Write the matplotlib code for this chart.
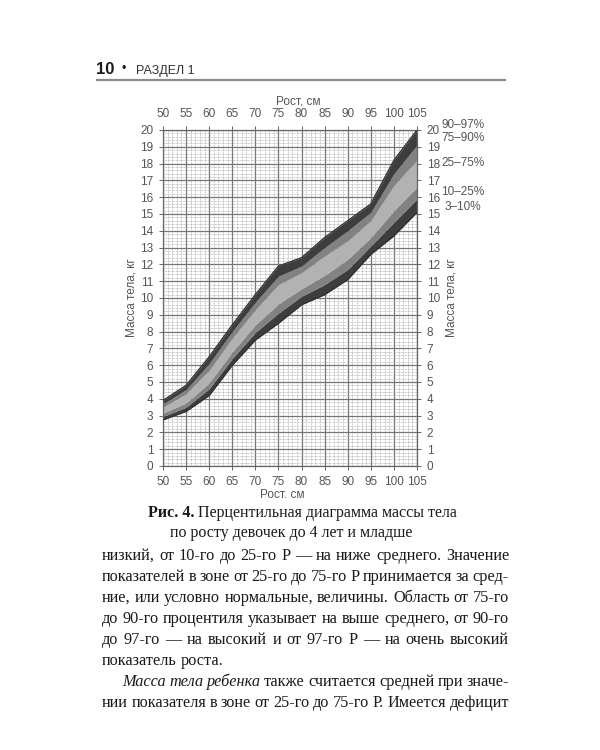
import matplotlib
matplotlib.use("Agg")
import matplotlib.pyplot as plt
from matplotlib.ticker import MultipleLocator
from matplotlib.lines import Line2D

# ---------------- data ----------------
height_cm = [50, 55, 60, 65, 70, 75, 80, 85, 90, 95, 100, 105]
p3  = [2.75, 3.25, 4.2, 6.0, 7.5, 8.5, 9.6, 10.2, 11.1, 12.6, 13.7, 15.1]
p10 = [2.95, 3.5, 4.6, 6.4, 7.95, 9.1, 10.1, 10.8, 11.7, 13.1, 14.5, 15.9]
p25 = [3.15, 3.75, 4.95, 6.8, 8.4, 9.65, 10.55, 11.35, 12.3, 13.6, 15.2, 16.6]
p75 = [3.5, 4.3, 5.7, 7.6, 9.3, 10.8, 11.5, 12.5, 13.4, 14.6, 16.7, 18.2]
p90 = [3.7, 4.55, 6.1, 8.0, 9.75, 11.3, 11.9, 13.0, 14.0, 15.1, 17.4, 19.1]
p97 = [3.9, 4.8, 6.5, 8.4, 10.2, 11.9, 12.4, 13.6, 14.6, 15.6, 18.2, 20.0]

x_ticks = [50, 55, 60, 65, 70, 75, 80, 85, 90, 95, 100, 105]
y_ticks = list(range(0, 21))
band_labels = ["90–97%", "75–90%", "25–75%", "10–25%", "3–10%"]
band_label_y = [125, 138, 163, 192, 207]  # pixel rows on page

header_num = "10"
header_sec = "РАЗДЕЛ 1"
xlabel_top = "Рост, см"
xlabel_bottom = "Рост. см"
ylabel = "Масса тела, кг"
caption_bold = "Рис. 4."
caption_1 = " Перцентильная диаграмма массы тела"
caption_2 = "по росту девочек до 4 лет и младше"

body_lines = [
    "низкий, от 10-го до 25-го Р — на ниже среднего. Значение",
    "показателей в зоне от 25-го до 75-го Р принимается за сред-",
    "ние, или условно нормальные, величины. Область от 75-го",
    "до 90-го процентиля указывает на выше среднего, от 90-го",
    "до 97-го — на высокий и от 97-го Р — на очень высокий",
    "показатель роста.",
    "Масса тела ребенка также считается средней при значе-",
    "нии показателя в зоне от 25-го до 75-го Р. Имеется дефицит",
]

# ---------------- figure ----------------
W, H = 600, 750
fig = plt.figure(figsize=(6, 7.5), dpi=100)
fig.patch.set_facecolor("white")

def fx(px):
    return px / W

def fy(py):
    return 1 - py / H

sans = ["Liberation Sans", "DejaVu Sans"]
serif = ["Liberation Serif", "DejaVu Serif"]
txt_gray = "#555555"
tick_fs = 8.5

ax = fig.add_axes([fx(163), fy(466), fx(417) - fx(163), (466 - 130) / H])
ax.set_xlim(50, 105)
ax.set_ylim(0, 20)
ax.set_xticks(x_ticks)
ax.set_yticks(y_ticks)
ax.xaxis.set_minor_locator(MultipleLocator(1))
ax.yaxis.set_minor_locator(MultipleLocator(0.2))
ax.grid(which="minor", color="#a0a0a0", linestyle=(0, (1, 1)), linewidth=0.5, zorder=0)
ax.grid(which="major", color="#777777", linestyle="-", linewidth=0.9, zorder=0)
ax.set_axisbelow(True)
for s in ax.spines.values():
    s.set_color("#666666")
    s.set_linewidth(0.9)

ax.tick_params(which="major", top=True, right=True, labeltop=True, labelright=True,
               direction="out", length=3, width=0.7, color="#666666",
               labelsize=tick_fs, labelcolor=txt_gray)
ax.tick_params(axis="x", which="major", pad=4)
ax.tick_params(axis="y", which="major", pad=3)
ax.tick_params(axis="y", which="major", right=True, pad=4)
ax.tick_params(which="minor", length=0)
for lab in ax.get_xticklabels() + ax.get_yticklabels():
    lab.set_family(sans)

dark = "#3d3d3d"
mid = "#828282"
light = "#b2b2b2"
ax.fill_between(height_cm, p3, p10, color=dark, lw=0, zorder=2)
ax.fill_between(height_cm, p10, p25, color=mid, lw=0, zorder=2)
ax.fill_between(height_cm, p25, p75, color=light, lw=0, zorder=2)
ax.fill_between(height_cm, p75, p90, color=mid, lw=0, zorder=2)
ax.fill_between(height_cm, p90, p97, color=dark, lw=0, zorder=2)
ax.plot(height_cm, p3, color="#333333", lw=1.0, zorder=3)
ax.plot(height_cm, p97, color="#333333", lw=1.0, zorder=3)

# axis titles
fig.text(fx(298), fy(102), xlabel_top, ha="center", va="center", fontsize=tick_fs,
         family=sans, color=txt_gray)
fig.text(fx(282), fy(495), xlabel_bottom, ha="center", va="center", fontsize=tick_fs,
         family=sans, color=txt_gray)
fig.text(fx(131), fy(298), ylabel, ha="center", va="center", rotation=90,
         fontsize=tick_fs, family=sans, color=txt_gray)
fig.text(fx(452), fy(298), ylabel, ha="center", va="center", rotation=90,
         fontsize=tick_fs, family=sans, color=txt_gray)
for lab, py in zip(band_labels, band_label_y):
    fig.text(fx(463), fy(py), lab, ha="center", va="center", fontsize=tick_fs,
             family=sans, color=txt_gray)

# header
fig.text(fx(96), fy(74), header_num, ha="left", va="baseline", fontsize=12,
         fontweight="bold", family=sans, color="#1a1a1a")
fig.text(fx(121), fy(72), "•", ha="left", va="baseline", fontsize=9,
         family=sans, color="#1a1a1a")
fig.text(fx(136), fy(74), header_sec, ha="left", va="baseline", fontsize=9,
         family=["Liberation Sans Narrow", "Liberation Sans", "DejaVu Sans"],
         color="#333333")
fig.add_artist(Line2D([fx(97), fx(505)], [fy(80), fy(80)], color="#8a8a8a", lw=1.6))

# caption
renderer = fig.canvas.get_renderer()
t1 = fig.text(fx(148), fy(517), caption_bold, ha="left", va="baseline", fontsize=11.5,
              fontweight="bold", family=serif, color="#1a1a1a")
bb = t1.get_window_extent(renderer)
fig.text(bb.x1 / W, fy(517), caption_1, ha="left", va="baseline", fontsize=11.5,
         family=serif, color="#1a1a1a")
fig.text(fx(291), fy(537), caption_2, ha="center", va="baseline", fontsize=11.5,
         family=serif, color="#1a1a1a")

# body text (justified)
body_fs = 11.7
left, right = 102, 509
baselines = [560, 581, 602, 623, 644, 665, 686, 707]
italic_words = {6: 3}  # line index -> number of leading italic words

def place_line(words, styles, y, x0, x1, justify):
    objs = []
    widths = []
    for w, st in zip(words, styles):
        t = fig.text(0, fy(y), w, ha="left", va="baseline", fontsize=body_fs,
                     family=serif, style=st, color="#1a1a1a")
        objs.append(t)
        widths.append(t.get_window_extent(renderer).width)
    sp = fig.text(0, 0, "a a", fontsize=body_fs, family=serif)
    sp2 = fig.text(0, 0, "aa", fontsize=body_fs, family=serif)
    space_w = sp.get_window_extent(renderer).width - sp2.get_window_extent(renderer).width
    sp.remove(); sp2.remove()
    if justify and len(words) > 1:
        gap = (x1 - x0 - sum(widths)) / (len(words) - 1)
    else:
        gap = space_w
    x = x0
    for t, wd in zip(objs, widths):
        t.set_x(x / W)
        x += wd + gap

for i, line in enumerate(body_lines):
    words = line.split(" ")
    n_it = italic_words.get(i, 0)
    styles = ["italic" if k < n_it else "normal" for k in range(len(words))]
    x0 = left + 20 if i == 6 else left
    justify = i != 5
    place_line(words, styles, baselines[i], x0, right, justify)

fig.savefig("out.png", dpi=100)
